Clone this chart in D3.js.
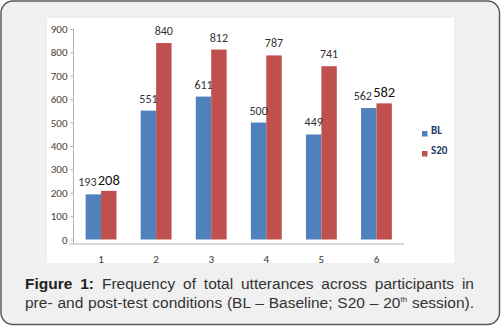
<!DOCTYPE html>
<html>
<head>
<meta charset="utf-8">
<script src="https://cdn.jsdelivr.net/npm/d3@7"></script>
<style>
  html, body { margin: 0; padding: 0; background: #fff; }
  #wrap { position: relative; width: 501px; height: 326px; }
  #caption {
    position: absolute; left: 25px; top: 274px; width: 449px;
    font-family: "Liberation Sans", Arial, sans-serif; font-size: 15.5px;
    line-height: 19px; color: #333; text-align: justify; text-align-last: justify;
  }
  #caption b { color: #222; }
  #caption sup { font-size: 8px; vertical-align: 6px; line-height: 0; }
</style>
</head>
<body>
<div id="wrap"></div>
<script>
const categories = ["1", "2", "3", "4", "5", "6"];
const seriesNames = ["BL", "S20"];
const blValues = [193, 551, 611, 500, 449, 562];
const s20Values = [208, 840, 812, 787, 741, 582];
const yTicks = [0, 100, 200, 300, 400, 500, 600, 700, 800, 900];
// labels that were typed larger in the source figure
const bigLabels = [["S20", "1"], ["S20", "6"]];

const width = 501;
const height = 326;
const colors = { BL: "#4f81bd", S20: "#c0504d" };

const rows = categories.map((c, i) => ({ cat: c, BL: blValues[i], S20: s20Values[i] }));
const isBig = (s, c) => bigLabels.some(([bs, bc]) => bs === s && bc === c);

const wrap = d3.select("#wrap");
const svg = wrap.append("svg")
  .attr("width", width)
  .attr("height", height)
  .style("display", "block");

// card
svg.append("rect")
  .attr("x", 1).attr("y", 1)
  .attr("width", width - 2.5).attr("height", height - 2.5)
  .attr("rx", 12)
  .attr("fill", "#f0f0f0")
  .attr("stroke", "#5a5a5a")
  .attr("stroke-width", 1.5);

// white plot panel
svg.append("rect")
  .attr("x", 47).attr("y", 18)
  .attr("width", 407).attr("height", 245)
  .attr("fill", "#fff");

const x0 = d3.scaleBand(categories, [73.5, 404]).paddingInner(0.44).paddingOuter(0.22);
const x1 = d3.scaleBand(seriesNames, [0, x0.bandwidth()]);
const y = d3.scaleLinear([0, 900], [239.5, 29]);

const font = "Calibri, Carlito, 'Liberation Sans', Arial, sans-serif";

// y axis
const yAxis = svg.append("g")
  .attr("transform", "translate(73.5,0)")
  .call(d3.axisLeft(y).tickValues(yTicks).tickSize(3).tickPadding(3).tickSizeOuter(0));
yAxis.select(".domain").attr("stroke", "#b3b3b3").attr("d", `M0,${y(900)}V244`);
yAxis.selectAll(".tick line").attr("stroke", "#b3b3b3");
yAxis.selectAll(".tick text")
  .attr("fill", "#4a4035")
  .style("font-family", font)
  .style("font-size", "11px");

// x axis
const xAxis = svg.append("g")
  .attr("transform", "translate(0,244)")
  .call(d3.axisBottom(x0).tickSize(0).tickPadding(11));
xAxis.select(".domain").attr("stroke", "#b3b3b3").attr("d", "M69,0H404");
xAxis.selectAll(".tick text")
  .attr("fill", "#333")
  .style("font-family", font)
  .style("font-size", "11px");

// bars
const groups = svg.append("g")
  .selectAll("g")
  .data(rows)
  .join("g")
  .attr("transform", (d) => `translate(${x0(d.cat)},0)`);

const cells = (d) => seriesNames.map((s) => ({ s, cat: d.cat, v: d[s] }));

groups.selectAll("rect")
  .data(cells)
  .join("rect")
  .attr("x", (d) => x1(d.s))
  .attr("y", (d) => y(d.v))
  .attr("width", x1.bandwidth())
  .attr("height", (d) => y(0) - y(d.v))
  .attr("fill", (d) => colors[d.s]);

groups.selectAll("text")
  .data(cells)
  .join("text")
  .attr("x", (d) => {
    const c = x1(d.s) + x1.bandwidth() / 2;
    // a blue label next to a large red one is pushed left
    if (d.s === "BL" && isBig("S20", d.cat)) return c - 6;
    return c;
  })
  .attr("y", (d) => y(d.v) - (isBig(d.s, d.cat) ? 6 : 8))
  .attr("text-anchor", "middle")
  .attr("fill", (d) => (isBig(d.s, d.cat) ? "#111" : "#333"))
  .style("font-family", font)
  .style("font-size", (d) => (isBig(d.s, d.cat) ? "14.5px" : "12px"))
  .text((d) => d.v);

// legend
const legend = svg.append("g")
  .selectAll("g")
  .data(seriesNames)
  .join("g")
  .attr("transform", (d, i) => `translate(422,${131 + i * 20})`);
legend.append("rect")
  .attr("width", 5.5).attr("height", 5.5)
  .attr("fill", (d) => colors[d]);
legend.append("text")
  .attr("x", 9).attr("y", 3)
  .attr("fill", "#1f3a5c")
  .style("font-family", font)
  .style("font-size", "11px")
  .style("font-weight", "bold")
  .text((d) => d);

// caption
const cap = wrap.append("div").attr("id", "caption");
cap.append("b").text("Figure 1:");
cap.append("span").text(" Frequency of total utterances across participants in");
cap.append("br");
cap.append("span").text("pre- and post-test conditions (BL \u2013 Baseline; S20 \u2013 20");
cap.append("sup").text("th");
cap.append("span").text(" session).");
</script>
</body>
</html>
